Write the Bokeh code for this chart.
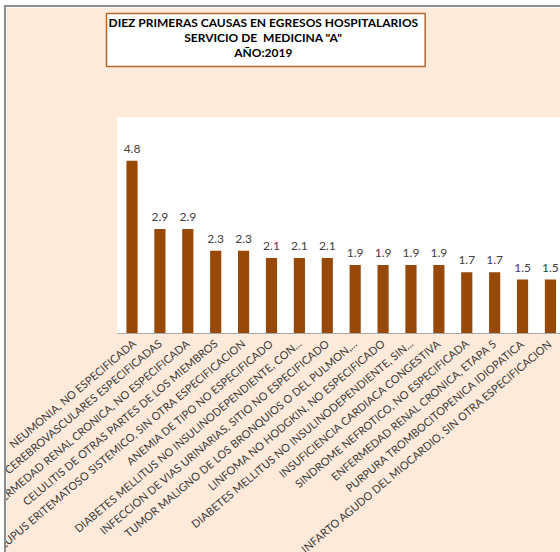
from bokeh.plotting import figure
from bokeh.models import Range1d, FixedTicker, Title, ColumnDataSource
from bokeh.core.properties import value
from bokeh.embed import file_html
from bokeh.resources import INLINE

causas = [
    "NEUMONIA, NO ESPECIFICADA",
    "OTRAS ENFERMEDADES CEREBROVASCULARES ESPECIFICADAS",
    "ENFERMEDAD RENAL CRONICA, NO ESPECIFICADA",
    "CELULITIS DE OTRAS PARTES DE LOS MIEMBROS",
    "LUPUS ERITEMATOSO SISTEMICO, SIN OTRA ESPECIFICACION",
    "ANEMIA DE TIPO NO ESPECIFICADO",
    "DIABETES MELLITUS NO INSULINODEPENDIENTE, CON...",
    "INFECCION DE VIAS URINARIAS, SITIO NO ESPECIFICADO",
    "TUMOR MALIGNO DE LOS BRONQUIOS O DEL PULMON,...",
    "LINFOMA NO HODGKIN, NO ESPECIFICADO",
    "DIABETES MELLITUS NO INSULINODEPENDIENTE, SIN...",
    "INSUFICIENCIA CARDIACA CONGESTIVA",
    "SINDROME NEFROTICO, NO ESPECIFICADA",
    "ENFERMEDAD RENAL CRONICA, ETAPA 5",
    "PURPURA TROMBOCITOPENICA IDIOPATICA",
    "INFARTO AGUDO DEL MIOCARDIO, SIN OTRA ESPECIFICACION",
]
valores = [4.8, 2.9, 2.9, 2.3, 2.3, 2.1, 2.1, 2.1, 1.9, 1.9, 1.9, 1.9, 1.7, 1.7, 1.5, 1.5]
titulo = 'DIEZ PRIMERAS CAUSAS EN EGRESOS HOSPITALARIOS\nSERVICIO DE\u00a0 MEDICINA "A"\nAÑO:2019'

pos = list(range(1, len(causas) + 1))
src = ColumnDataSource(dict(x=pos, y=valores, lbl=[f"{v:.1f}" for v in valores]))

BAR = "#984807"
BG = "#FDEADA"
FONT = "Lato"

p = figure(frame_width=443, frame_height=216, output_backend="svg", toolbar_location=None,
           x_range=Range1d(0.48, 16.36), y_range=Range1d(0, 6),
           min_border_left=111, min_border_right=0, min_border_top=110, min_border_bottom=219)
p.background_fill_color = "white"
p.border_fill_color = BG
p.outline_line_color = None
p.grid.visible = False
p.yaxis.visible = False

p.vbar(x="x", top="y", width=0.4, source=src, fill_color=BAR, line_color=None)
p.text(x="x", y="y", text="lbl", source=src, text_align="center", text_baseline="bottom",
       y_offset=-8, text_font=value(FONT), text_font_size="12px", text_color="#404040")

ax = p.xaxis[0]
ax.ticker = FixedTicker(ticks=pos)
ax.major_label_overrides = {i: c for i, c in zip(pos, causas)}
ax.major_label_orientation = 0.70
ax.major_label_text_font = FONT
ax.major_label_text_font_size = "11px"
ax.major_label_text_color = "#3a3a3a"
ax.major_label_standoff = 2
ax.axis_line_color = "#A6A6A6"
ax.major_tick_line_color = None
ax.minor_tick_line_color = None

# spacer between plot area and title box
p.add_layout(Title(text="\u00a0", text_font_size="1px", standoff=48), "above")
t = Title(text=titulo, align="left", offset=-11, standoff=0, vertical_align="bottom",
          text_font=FONT, text_font_style="bold", text_font_size="12px",
          text_color="black", text_line_height=1.0,
          background_fill_color="white", border_line_color="#B5642B",
          border_line_width=1.5, padding=(2, 7, 1, 7))
try:
    t.text_align = "center"
except Exception:
    pass
p.add_layout(t, "above")

p.styles = {"margin-left": "4px", "margin-top": "5px",
            "border-left": "2px solid #8c8c8c", "border-top": "2px solid #8c8c8c"}

open("out.html", "w").write(file_html(p, INLINE))
